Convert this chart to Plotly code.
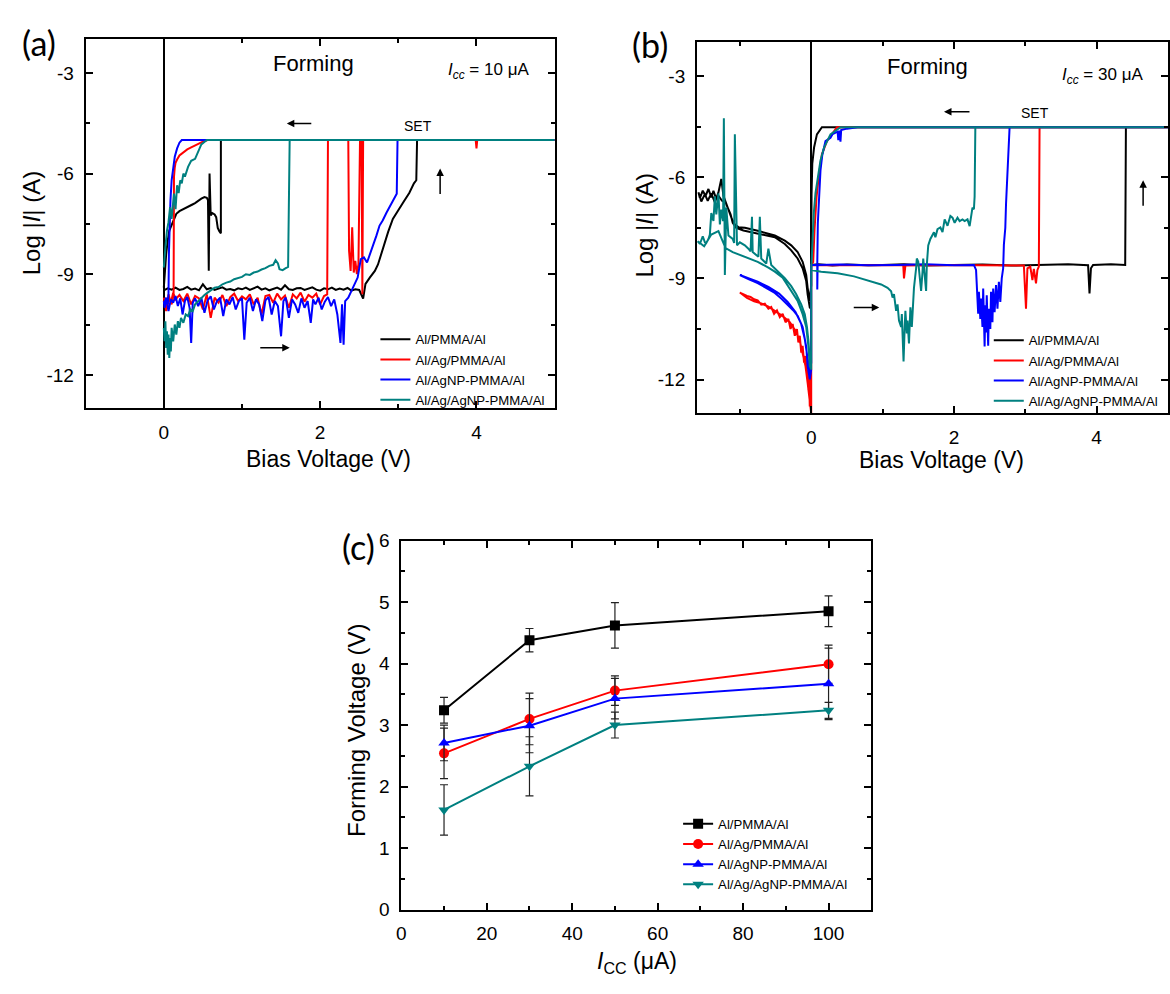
import plotly.graph_objects as go

# ---------------- DATA ----------------
SERIES = ["Al/PMMA/Al", "Al/Ag/PMMA/Al", "Al/AgNP-PMMA/Al", "Al/Ag/AgNP-PMMA/Al"]
COLORS = ["#000000", "#ff0000", "#0000ff", "#008080"]
LOG_TICKS = [-12, -9, -6, -3]
LOG_TICK_TEXT = ["-12", "-9", "-6", "-3"]

# Panel (a): Icc = 10 uA, (bias V, log|I|)
A_BLACK = [(0.00,-9.48),(0.05,-9.42),(0.10,-9.46),(0.15,-9.40),(0.20,-9.47),(0.25,-9.44),(0.30,-9.38),(0.35,-9.46),
           (0.40,-9.43),(0.45,-9.48),(0.50,-9.30),(0.55,-9.45),(0.60,-9.41),(0.65,-9.47),(0.70,-9.43),(0.75,-9.39),
           (0.80,-9.46),(0.85,-9.44),(0.90,-9.48),(0.95,-9.42),(1.00,-9.45),(1.05,-9.40),(1.10,-9.47),(1.15,-9.43),
           (1.20,-9.37),(1.25,-9.46),(1.30,-9.42),(1.35,-9.48),(1.40,-9.44),(1.45,-9.40),(1.50,-9.46),(1.55,-9.33),
           (1.60,-9.45),(1.65,-9.47),(1.70,-9.42),(1.75,-9.41),(1.80,-9.47),(1.85,-9.44),(1.90,-9.39),(1.95,-9.46),
           (2.00,-9.49),(2.05,-9.42),(2.10,-9.45),(2.15,-9.40),(2.20,-9.47),(2.25,-9.43),(2.30,-9.46),(2.35,-9.41),
           (2.40,-9.49),(2.45,-9.45),(2.50,-9.47),(2.55,-9.73),(2.58,-9.29),(2.635,-9.10),(2.70,-8.90),(2.74,-8.71),
           (2.80,-8.23),(2.87,-7.74),(2.93,-7.35),(2.99,-7.11),(3.06,-6.87),(3.14,-6.58),(3.20,-6.29),(3.23,-6.20),
           (3.24,-5.00),(5.00,-5.00),(0.73,-5.00),(0.73,-7.78),(0.71,-7.72),(0.69,-7.62),(0.67,-7.30),(0.65,-7.22),
           (0.62,-7.18),(0.60,-7.25),(0.585,-6.00),(0.575,-8.90),(0.565,-6.80),(0.55,-6.72),(0.52,-6.70),(0.48,-6.75),
           (0.44,-6.82),(0.40,-6.88),(0.36,-6.93),(0.32,-6.98),(0.28,-7.03),(0.24,-7.08),(0.20,-7.12),(0.16,-7.20),
           (0.13,-7.35),(0.11,-7.48),(0.09,-7.55),(0.07,-7.70),(0.05,-8.00),(0.03,-8.40),(0.015,-8.90),(0.00,-9.40)]
A_RED = [(0.00,-9.70),(0.03,-10.10),(0.06,-9.60),(0.09,-9.85),(0.12,-9.55),(0.15,-9.75),(0.20,-9.62),(0.25,-9.80),
         (0.30,-9.58),(0.35,-9.90),(0.40,-9.65),(0.45,-9.72),(0.50,-10.05),(0.55,-9.60),(0.60,-10.30),(0.65,-9.70),
         (0.70,-9.85),(0.75,-9.62),(0.80,-9.95),(0.85,-9.68),(0.90,-9.58),(0.95,-9.80),(1.00,-9.66),(1.05,-9.75),
         (1.10,-9.60),(1.15,-9.90),(1.20,-9.70),(1.25,-10.20),(1.30,-9.65),(1.35,-9.62),(1.40,-9.85),(1.45,-9.58),
         (1.50,-9.75),(1.55,-9.64),(1.60,-10.00),(1.65,-9.60),(1.70,-9.72),(1.75,-9.55),(1.80,-9.82),(1.85,-9.62),
         (1.90,-9.70),(1.95,-9.58),(2.00,-9.90),(2.05,-9.65),(2.09,-9.60),(2.10,-5.00),(2.36,-5.00),(2.37,-8.30),
         (2.39,-8.90),(2.41,-7.60),(2.43,-8.95),(2.45,-8.60),(2.47,-9.00),(2.49,-8.70),(2.51,-5.00),(2.53,-5.00),
         (2.54,-9.60),(2.55,-5.00),(3.99,-5.00),(4.00,-5.25),(4.01,-5.00),(5.00,-5.00),(0.56,-5.00),(0.50,-5.05),
         (0.45,-5.10),(0.40,-5.16),(0.35,-5.22),(0.30,-5.28),(0.25,-5.36),(0.20,-5.46),(0.17,-5.58),(0.15,-5.68),
         (0.14,-5.82),(0.13,-6.10),(0.125,-9.60),(0.10,-9.90),(0.07,-9.70),(0.04,-10.00),(0.02,-9.75),(0.00,-9.85)]
A_BLUE = [(0.00,-9.90),(0.03,-9.70),(0.06,-10.10),(0.09,-9.75),(0.12,-9.85),(0.15,-9.65),(0.18,-9.95),(0.21,-9.72),
          (0.24,-10.20),(0.27,-9.80),(0.30,-9.68),(0.33,-10.00),(0.35,-11.05),(0.37,-9.85),(0.40,-9.72),(0.44,-9.95),
          (0.48,-9.70),(0.52,-10.15),(0.56,-9.78),(0.60,-9.66),(0.64,-10.05),(0.68,-9.80),(0.72,-9.70),(0.76,-10.25),
          (0.80,-9.75),(0.84,-9.90),(0.88,-9.68),(0.92,-10.05),(0.96,-9.80),(1.00,-9.72),(1.03,-10.95),(1.06,-9.85),
          (1.10,-9.70),(1.14,-10.10),(1.18,-9.75),(1.22,-9.90),(1.26,-10.40),(1.30,-9.78),(1.34,-9.68),(1.38,-10.20),
          (1.42,-9.80),(1.46,-9.95),(1.50,-10.85),(1.53,-9.80),(1.56,-9.70),(1.60,-10.30),(1.64,-9.75),(1.68,-9.90),
          (1.72,-10.15),(1.76,-9.72),(1.80,-10.00),(1.84,-9.80),(1.88,-10.45),(1.91,-9.75),(1.94,-9.90),(1.98,-9.70),
          (2.02,-10.05),(2.06,-9.82),(2.10,-9.68),(2.14,-9.95),(2.18,-9.75),(2.22,-10.20),(2.26,-11.05),(2.28,-9.90),
          (2.30,-11.10),(2.32,-9.80),(2.36,-9.70),(2.42,-9.40),(2.48,-9.10),(2.52,-8.55),(2.56,-8.50),(2.60,-8.65),
          (2.64,-8.40),(2.68,-8.10),(2.72,-7.85),(2.76,-7.55),(2.80,-7.40),(2.85,-7.16),(2.90,-6.95),(2.95,-6.70),
          (2.98,-6.60),(2.99,-5.00),(5.00,-5.00),(0.23,-5.00),(0.20,-5.08),(0.17,-5.25),(0.14,-5.50),(0.12,-5.80),
          (0.10,-6.20),(0.085,-6.80),(0.075,-7.50),(0.065,-8.40),(0.06,-9.60),(0.05,-9.90),(0.03,-9.75),(0.01,-10.00),
          (0.00,-9.80)]
A_TEAL = [(0.00,-10.60),(0.01,-11.00),(0.02,-10.40),(0.03,-11.20),(0.04,-10.70),(0.05,-11.40),(0.06,-10.80),
          (0.07,-11.50),(0.08,-10.90),(0.09,-11.30),(0.10,-10.60),(0.12,-11.00),(0.14,-10.50),(0.16,-10.80),
          (0.18,-10.40),(0.20,-10.60),(0.22,-10.30),(0.25,-10.45),(0.28,-10.20),(0.31,-10.25),(0.34,-10.05),
          (0.37,-10.10),(0.40,-9.90),(0.44,-9.80),(0.48,-9.70),(0.52,-9.62),(0.56,-9.55),(0.60,-9.48),(0.65,-9.40),
          (0.70,-9.38),(0.75,-9.30),(0.80,-9.25),(0.85,-9.22),(0.90,-9.15),(0.95,-9.12),(1.00,-9.08),(1.05,-9.00),
          (1.10,-9.02),(1.15,-8.95),(1.20,-8.92),(1.25,-8.86),(1.30,-8.82),(1.35,-8.75),(1.40,-8.72),(1.43,-8.58),
          (1.46,-8.68),(1.48,-8.85),(1.52,-8.88),(1.56,-8.82),(1.59,-8.78),(1.61,-5.00),(5.00,-5.00),(0.55,-5.00),
          (0.48,-5.13),(0.44,-5.32),(0.40,-5.56),(0.35,-5.62),(0.31,-5.80),(0.27,-6.09),(0.25,-6.00),(0.23,-6.29),
          (0.21,-6.20),(0.19,-6.58),(0.17,-6.35),(0.15,-7.06),(0.13,-6.60),(0.10,-7.35),(0.08,-7.00),(0.06,-7.45),
          (0.04,-7.70),(0.02,-8.20),(0.00,-8.80)]

# Panel (b): Icc = 30 uA
B_BLACK = [(0.00,-9.90),(-0.02,-9.86),(-0.05,-9.47),(-0.07,-9.08),(-0.12,-8.70),(-0.19,-8.41),(-0.28,-8.17),
           (-0.37,-7.98),(-0.51,-7.78),(-0.65,-7.72),(-0.80,-7.64),(-0.95,-7.58),(-1.05,-7.50),(-1.10,-7.35),
           (-1.13,-7.10),(-1.17,-6.90),(-1.20,-6.75),(-1.25,-6.70),(-1.30,-6.55),(-1.33,-6.65),(-1.37,-6.40),
           (-1.40,-6.60),(-1.44,-6.35),(-1.48,-6.55),(-1.52,-6.40),(-1.56,-6.62),(-1.58,-6.45),(-1.54,-6.72),
           (-1.49,-6.50),(-1.45,-6.70),(-1.40,-6.48),(-1.35,-6.75),(-1.30,-6.45),(-1.26,-6.05),(-1.23,-6.55),
           (-1.19,-6.80),(-1.15,-7.00),(-1.11,-7.25),(-1.07,-7.40),(-1.02,-7.48),(-0.93,-7.50),(-0.84,-7.54),
           (-0.75,-7.59),(-0.51,-7.73),(-0.37,-7.88),(-0.28,-8.02),(-0.19,-8.22),(-0.12,-8.51),(-0.07,-8.90),
           (-0.05,-9.28),(-0.02,-9.67),(0.00,-9.20),(0.00,-8.60),(0.10,-8.58),(0.30,-8.62),(0.50,-8.59),(0.80,-8.61),
           (1.00,-8.60),(1.30,-8.58),(1.60,-8.62),(2.00,-8.60),(2.40,-8.59),(2.80,-8.62),(3.20,-8.60),(3.60,-8.58),
           (3.88,-8.61),(3.90,-9.45),(3.92,-8.70),(3.95,-8.60),(4.20,-8.58),(4.40,-8.60),(4.41,-4.52),(5.00,-4.52),
           (0.15,-4.52),(0.08,-4.73),(0.04,-5.12),(0.015,-5.60),(0.005,-6.50),(0.00,-8.60)]
B_RED = [(0.00,-13.00),(-0.01,-12.40),(-0.02,-12.80),(-0.03,-11.90),(-0.04,-12.30),(-0.05,-11.70),(-0.06,-11.90),
         (-0.08,-11.30),(-0.10,-11.50),(-0.12,-11.00),(-0.14,-11.20),(-0.16,-10.70),(-0.18,-10.90),(-0.20,-10.50),
         (-0.23,-10.70),(-0.26,-10.35),(-0.29,-10.50),(-0.32,-10.20),(-0.36,-10.30),(-0.40,-10.05),(-0.44,-10.15),
         (-0.48,-9.95),(-0.52,-10.05),(-0.56,-9.85),(-0.60,-9.90),(-0.65,-9.75),(-0.70,-9.78),(-0.75,-9.65),
         (-0.80,-9.62),(-0.85,-9.55),(-0.90,-9.52),(-0.95,-9.46),(-1.00,-9.42),(-0.90,-9.58),(-0.80,-9.68),
         (-0.70,-9.74),(-0.60,-9.84),(-0.50,-9.98),(-0.40,-10.12),(-0.30,-10.30),(-0.22,-10.55),(-0.16,-10.85),
         (-0.12,-11.20),(-0.08,-11.60),(-0.05,-12.10),(-0.03,-12.50),(-0.01,-12.90),(0.00,-13.00),(0.00,-8.60),
         (0.40,-8.61),(0.80,-8.60),(1.29,-8.61),(1.30,-9.00),(1.32,-8.62),(1.80,-8.60),(2.40,-8.61),(2.90,-8.60),
         (2.98,-8.62),(3.01,-9.90),(3.03,-8.70),(3.07,-8.65),(3.10,-9.05),(3.12,-8.72),(3.15,-9.15),(3.17,-8.75),
         (3.19,-8.65),(3.20,-4.52),(5.00,-4.52),(0.36,-4.52),(0.22,-4.93),(0.15,-5.32),(0.11,-5.90),(0.075,-6.58),
         (0.047,-7.54),(0.028,-8.51),(0.00,-8.60)]
B_BLUE = [(0.00,-11.70),(-0.02,-11.99),(-0.05,-11.60),(-0.07,-11.02),(-0.12,-10.44),(-0.19,-10.11),(-0.25,-9.95),
          (-0.33,-9.77),(-0.42,-9.60),(-0.51,-9.43),(-0.63,-9.28),(-0.75,-9.14),(-0.88,-9.02),(-1.00,-8.90),
          (-0.90,-8.98),(-0.75,-9.10),(-0.60,-9.25),(-0.45,-9.45),(-0.33,-9.70),(-0.22,-10.00),(-0.14,-10.35),
          (-0.09,-10.80),(-0.05,-11.30),(-0.02,-11.80),(0.00,-11.50),(0.00,-8.60),(0.085,-8.60),(0.085,-9.33),
          (0.09,-8.60),(0.40,-8.59),(0.80,-8.61),(1.20,-8.60),(1.60,-8.58),(2.00,-8.61),(2.28,-8.60),(2.31,-8.75),
          (2.33,-9.70),(2.34,-10.05),(2.35,-9.40),(2.37,-10.20),(2.38,-9.60),(2.40,-10.44),(2.41,-9.30),(2.43,-11.02),
          (2.44,-9.80),(2.45,-10.60),(2.46,-9.50),(2.48,-11.00),(2.49,-9.90),(2.51,-10.50),(2.52,-9.40),(2.54,-10.30),
          (2.55,-9.30),(2.57,-10.00),(2.59,-9.20),(2.61,-9.90),(2.63,-9.10),(2.65,-9.70),(2.67,-9.00),(2.69,-8.70),
          (2.70,-8.00),(2.72,-7.50),(2.73,-6.80),(2.75,-6.00),(2.76,-5.40),(2.78,-4.52),(5.00,-4.52),(0.65,-4.52),
          (0.50,-4.56),(0.42,-4.60),(0.41,-4.95),(0.40,-4.62),(0.38,-4.90),(0.37,-4.65),(0.30,-4.72),(0.27,-4.83),
          (0.20,-4.93),(0.154,-5.36),(0.13,-5.80),(0.107,-6.57),(0.093,-7.35),(0.085,-8.60),(0.00,-8.60)]
B_TEAL = [(0.00,-11.60),(-0.02,-11.41),(-0.04,-10.83),(-0.06,-10.44),(-0.09,-10.06),(-0.14,-9.77),(-0.21,-9.47),
          (-0.28,-9.23),(-0.37,-8.99),(-0.47,-8.80),(-0.56,-8.60),(-0.60,-8.12),(-0.63,-8.56),(-0.70,-8.41),
          (-0.72,-7.17),(-0.74,-8.36),(-0.82,-8.22),(-0.83,-7.17),(-0.85,-8.20),(-0.88,-8.12),(-0.93,-8.02),
          (-1.00,-7.93),(-1.04,-8.02),(-1.07,-4.73),(-1.08,-7.95),(-1.10,-7.83),(-1.16,-7.73),(-1.19,-6.90),
          (-1.21,-8.90),(-1.224,-4.25),(-1.235,-7.30),(-1.26,-6.96),(-1.28,-7.40),(-1.30,-6.48),(-1.33,-7.10),
          (-1.35,-6.57),(-1.37,-7.30),(-1.40,-7.06),(-1.42,-7.70),(-1.44,-7.83),(-1.47,-7.95),(-1.49,-7.93),
          (-1.52,-7.75),(-1.56,-7.98),(-1.59,-7.90),(-1.50,-8.05),(-1.40,-7.70),(-1.30,-7.60),(-1.20,-8.10),
          (-1.10,-8.22),(-1.00,-8.30),(-0.90,-8.38),(-0.75,-8.51),(-0.60,-8.68),(-0.51,-8.80),(-0.40,-8.98),
          (-0.28,-9.37),(-0.19,-9.67),(-0.12,-10.06),(-0.07,-10.44),(-0.04,-11.00),(-0.02,-11.60),(0.00,-11.70),
          (0.00,-8.75),(0.14,-8.80),(0.37,-8.85),(0.60,-8.94),(0.84,-9.08),(0.98,-9.18),(1.07,-9.28),(1.12,-9.38),
          (1.14,-9.57),(1.16,-9.47),(1.19,-9.96),(1.21,-9.77),(1.23,-10.25),(1.26,-10.44),(1.27,-10.06),(1.285,-11.02),
          (1.294,-11.46),(1.31,-10.44),(1.32,-9.96),(1.34,-10.63),(1.35,-10.25),(1.37,-10.93),(1.39,-9.86),
          (1.41,-10.44),(1.43,-9.67),(1.44,-9.28),(1.47,-8.70),(1.48,-8.41),(1.50,-8.51),(1.52,-8.99),(1.54,-9.37),
          (1.56,-8.80),(1.57,-8.41),(1.59,-8.90),(1.61,-9.37),(1.62,-8.60),(1.64,-8.02),(1.67,-7.83),(1.70,-7.73),
          (1.72,-7.63),(1.74,-7.78),(1.77,-7.54),(1.81,-7.49),(1.84,-7.63),(1.87,-7.25),(1.91,-7.44),(1.95,-7.15),
          (1.98,-7.20),(2.01,-7.35),(2.05,-7.20),(2.08,-7.30),(2.12,-7.25),(2.15,-7.30),(2.19,-7.25),(2.22,-7.45),
          (2.24,-7.10),(2.26,-6.90),(2.28,-6.95),(2.29,-6.57),(2.30,-4.52),(5.00,-4.52),(0.41,-4.52),(0.27,-4.73),
          (0.18,-5.12),(0.13,-5.50),(0.10,-5.99),(0.06,-6.47),(0.037,-7.05),(0.019,-7.73),(0.005,-8.51),(0.00,-8.75)]

# Panel (c): forming voltage vs compliance current
C_ICC = [10, 30, 50, 100]
C_BLACK = [3.24, 4.38, 4.62, 4.85]
C_BLACK_ERR = [0.21, 0.19, 0.37, 0.25]
C_RED = [2.54, 3.10, 3.56, 3.99]
C_RED_ERR = [0.41, 0.42, 0.24, 0.31]
C_BLUE = [2.71, 2.99, 3.43, 3.67]
C_BLUE_ERR = [0.29, 0.44, 0.33, 0.58]
C_TEAL = [1.62, 2.33, 3.00, 3.24]
C_TEAL_ERR = [0.41, 0.48, 0.21, 0.13]
C_SYMBOLS = ["square", "circle", "triangle-up", "triangle-down"]

# ---------------- FIGURE ----------------
W, H = 1170, 994
FONT = "Liberation Sans, Arial, sans-serif"
LABEL_FONT = "Lato, Liberation Sans, sans-serif"


def fx(px):
    return px / W


def fy(py):
    return 1 - py / H


fig = go.Figure()

for series, data in ((0, A_BLACK), (1, A_RED), (2, A_BLUE), (3, A_TEAL)):
    fig.add_trace(go.Scatter(x=[p[0] for p in data], y=[p[1] for p in data], mode="lines",
                             name=SERIES[series], line=dict(color=COLORS[series], width=2),
                             xaxis="x", yaxis="y", legend="legend", legendgroup="a%d" % series))
for series, data in ((0, B_BLACK), (1, B_RED), (2, B_BLUE), (3, B_TEAL)):
    fig.add_trace(go.Scatter(x=[p[0] for p in data], y=[p[1] for p in data], mode="lines",
                             name=SERIES[series], line=dict(color=COLORS[series], width=2),
                             xaxis="x2", yaxis="y2", legend="legend2", legendgroup="b%d" % series))
for series, (vals, errs) in enumerate(((C_BLACK, C_BLACK_ERR), (C_RED, C_RED_ERR),
                                       (C_BLUE, C_BLUE_ERR), (C_TEAL, C_TEAL_ERR))):
    fig.add_trace(go.Scatter(x=C_ICC, y=vals, mode="lines+markers", name=SERIES[series],
                             line=dict(color=COLORS[series], width=2),
                             marker=dict(symbol=C_SYMBOLS[series], size=10, color=COLORS[series]),
                             error_y=dict(type="data", array=errs, visible=True, color="#222222",
                                          thickness=1.2, width=4),
                             xaxis="x3", yaxis="y3", legend="legend3", legendgroup="c%d" % series))


def axis(domain, rng, dtick, minor, tick0=0, zero=False, anchor=None, vals=None, texts=None):
    d = dict(domain=domain, range=rng, anchor=anchor,
             showline=True, linecolor="black", linewidth=2, mirror="ticks",
             ticks="inside", ticklen=7, tickwidth=1.5, tickcolor="black",
             showgrid=False, zeroline=zero, zerolinecolor="black", zerolinewidth=2,
             tickfont=dict(family=FONT, size=19, color="black"), ticklabelstandoff=6,
             minor=dict(tickmode="linear", tick0=tick0, dtick=minor, ticks="inside", ticklen=4,
                        tickwidth=1.5, tickcolor="black", showgrid=False))
    if vals is not None:
        d.update(tickmode="array", tickvals=vals, ticktext=texts)
    else:
        d.update(dtick=dtick, tick0=tick0)
    return d


fig.update_layout(
    width=W, height=H, margin=dict(l=0, r=0, t=0, b=0),
    paper_bgcolor="white", plot_bgcolor="white",
    font=dict(family=FONT, color="black"),
    xaxis=axis([fx(81), fx(552)], [-1, 5], 2, 1, zero=True, anchor="y"),
    yaxis=axis([fy(407), fy(30)], [-13, -2], 3, 1.5, tick0=-3, anchor="x",
               vals=LOG_TICKS, texts=LOG_TICK_TEXT),
    xaxis2=axis([fx(695), fx(1168)], [-1.6, 5], 2, 1, zero=True, anchor="y2"),
    yaxis2=axis([fy(412), fy(33)], [-13, -2], 3, 1.5, tick0=-3, anchor="x2",
                vals=LOG_TICKS, texts=LOG_TICK_TEXT),
    xaxis3=axis([fx(398), fx(870)], [0, 110], 20, 10, anchor="y3"),
    yaxis3=axis([fy(919), fy(542)], [0, 6], 1, 0.5, anchor="x3"),
    showlegend=True,
)
leg_common = dict(bgcolor="rgba(0,0,0,0)", borderwidth=0, font=dict(family=FONT, size=13.2, color="black"),
                  xanchor="left", yanchor="top", tracegroupgap=0, itemwidth=30)
fig.update_layout(legend=dict(x=fx(372), y=fy(321), **leg_common),
                  legend2=dict(x=fx(988), y=fy(322), **leg_common),
                  legend3=dict(x=fx(676), y=fy(816), **leg_common))

ann = []


def text(px, py, s, size, family=FONT, angle=0):
    ann.append(dict(x=fx(px), y=fy(py), xref="paper", yref="paper", text=s, showarrow=False,
                    xanchor="center", yanchor="middle", textangle=angle,
                    font=dict(family=family, size=size, color="black")))


def arrow(hx, hy, tx, ty):
    ann.append(dict(x=fx(hx), y=fy(hy), xref="paper", yref="paper", ax=tx - hx, ay=ty - hy,
                    text="", showarrow=True, arrowhead=2, arrowsize=1, arrowwidth=1.5,
                    arrowcolor="black", standoff=0, startstandoff=0))


# panel labels
text(34, 33, "(a)", 34, LABEL_FONT)
text(648, 35, "(b)", 34, LABEL_FONT)
text(355, 548, "(c)", 34, LABEL_FONT)
# panel (a) texts
text(310, 55, "Forming", 22)
text(486, 62, "<i>I</i><sub><i>cc</i></sub> = 10 μA", 17)
text(415, 118, "SET", 14)
arrow(283, 116, 309, 116)
arrow(437, 162, 437, 189)
arrow(286, 345, 255, 345)
# panel (b) texts
text(926, 58, "Forming", 22)
text(1102, 67, "<i>I</i><sub><i>cc</i></sub> = 30 μA", 17)
text(1034, 105, "SET", 14)
arrow(943, 104, 970, 104)
arrow(1143, 174, 1143, 201)
arrow(878, 304, 851, 304)
# axis titles
text(325, 459, "Bias Voltage (V)", 23)
text(27, 217, "Log |<i>I</i>| (A)", 24, angle=-90)
text(941, 460, "Bias Voltage (V)", 23)
text(642, 220, "Log |<i>I</i>| (A)", 24, angle=-90)
text(635, 973, "<i>I</i><sub>CC</sub> (μA)", 23)
text(353, 736, "Forming Voltage (V)", 24, angle=-90)

fig.update_layout(annotations=ann)
fig.write_html("out.html", config={"displayModeBar": False},
               post_script="document.body.style.margin='0';document.body.style.overflow='hidden';")
